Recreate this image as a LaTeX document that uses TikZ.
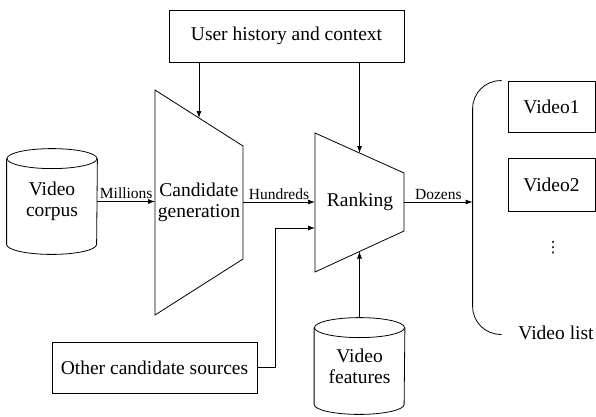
\documentclass[tikz,border=0pt]{standalone}
\usepackage{fontspec}
\setmainfont{Liberation Serif}
\newfontfamily\symfont{DejaVu Sans}
\usetikzlibrary{arrows.meta,calc}

\tikzset{
	box/.style={draw, inner sep=0pt},
	db/.style={minimum width=90pt, align=center, inner sep=0pt},
	lbl/.style={font=\fontsize{15.5}{17}\selectfont, inner sep=2pt},
	arr/.style={-{Latex[length=7pt,width=5pt]}},
}

\begin{document}
\begin{tikzpicture}[x=1pt,y=-1pt,line width=0.8pt,font=\fontsize{19.5}{21}\selectfont]
	\useasboundingbox (0,0) rectangle (596,416);
	
	% User history and context
	\node[box, minimum width=235pt, minimum height=52pt] (user) at (286.5,36) {User history and context};
	
	% Video corpus and video features
	\node[db, minimum height=105pt] (corpus) at (52,201.5) {Video\\corpus};
	\node[db, minimum height=96pt] (feat) at (359.5,366) {Video\\features};
	\foreach \n in {corpus,feat}{
		\draw ([yshift=-10pt]\n.north west) -- ([yshift=10pt]\n.south west)
			arc[start angle=180, end angle=360, x radius=45pt, y radius=10pt]
			-- ([yshift=-10pt]\n.north east);
		\draw ([yshift=-10pt]\n.north) ellipse [x radius=45pt, y radius=10pt];
	}
	
	% Candidate generation
	\coordinate (cg1) at (155,90);
	\coordinate (cg2) at (243,146);
	\coordinate (cg3) at (243,259);
	\coordinate (cg4) at (155,315);
	\draw (cg1) -- (cg2) -- (cg3) -- (cg4) -- cycle;
	\node[align=center] (cand) at (199,202) {Candidate\\generation};
	\coordinate (cgtop) at ($(cg1)!.5!(cg2)$);
	
	% Ranking
	\coordinate (rk1) at (315,133);
	\coordinate (rk2) at (404,173);
	\coordinate (rk3) at (404,231);
	\coordinate (rk4) at (315,272);
	\draw (rk1) -- (rk2) -- (rk3) -- (rk4) -- cycle;
	\node (rank) at (360,202) {Ranking};
	\coordinate (rktop) at ($(rk1)!.5!(rk2)$);
	\coordinate (rkbot) at ($(rk4)!.5!(rk3)$);
	\coordinate (rkin) at (315,228);
	
	% Other candidate sources
	\node[box, minimum width=205pt, minimum height=51pt] (other) at (154.5,367.5) {Other candidate sources};
	
	% Video list
	\node[minimum width=122pt, minimum height=253pt, inner sep=0pt] (vlist) at (534,207.5) {};
	\draw[rounded corners=28pt] ([xshift=29pt]vlist.north west) -- (vlist.north west)
		-- (vlist.south west) -- ([xshift=29pt]vlist.south west);
	\node[box, minimum width=87pt, minimum height=51pt] (v1) at (551.5,106.5) {Video1};
	\node[box, minimum width=87pt, minimum height=53pt] (v2) at (551.5,184.5) {Video2};
	\node[lbl] (dots) at (553,248) {\symfont ⋮};
	\node (vname) at (556,333) {Video list};
	
	% Arrows
	\draw[arr] (user.south -| cgtop) -- (cgtop);
	\draw[arr] (user.south -| rktop) -- (rktop);
	\draw[arr] (corpus.east) -- (corpus.east -| cg1) node[lbl, midway, above] {Millions};
	\draw[arr] (cand.east -| cg2) -- (cand.east -| rk1) node[lbl, midway, above] {Hundreds};
	\draw[arr] (rank.east -| rk2) -- (rank.east -| vlist.west) node[lbl, midway, above] {Dozens};
	\draw[arr] (other.east) -| (275,228) -- (rkin);
	\draw[arr] (feat.north) -- (rkbot);
\end{tikzpicture}
\end{document}
